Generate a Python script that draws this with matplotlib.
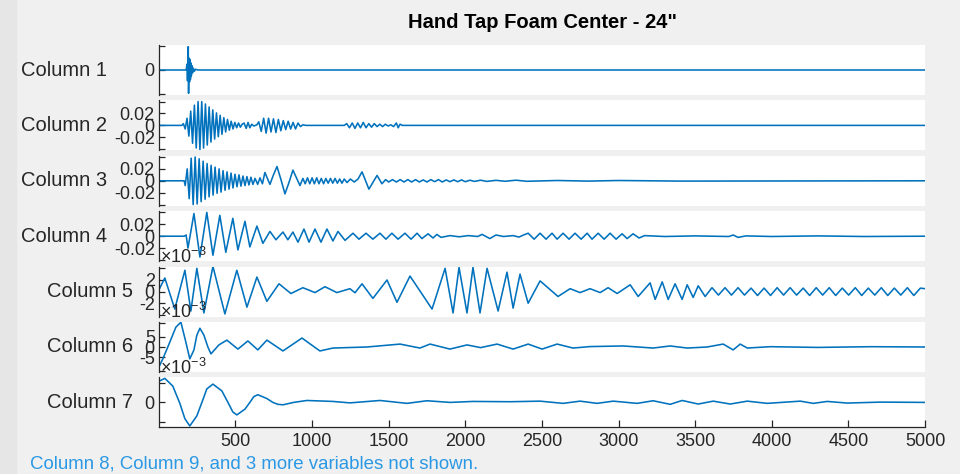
import matplotlib
matplotlib.use("Agg")
import matplotlib.pyplot as plt
from matplotlib.patches import Rectangle

plt.rcParams['font.family'] = ['Liberation Sans', 'DejaVu Sans']
plt.rcParams['mathtext.default'] = 'regular'

# sample index vs. reading; columns 2-7 are stored in units of 1e-3
col1 = [(1, 0), (178, 0), (184, 0.25), (187, -0.45), (190, 0.55), (192, 0.98), (194, -0.98),
        (197, 0.5), (200, -0.5), (203, 0.45), (206, -0.4), (209, 0.3), (212, -0.25), (216, 0.18),
        (220, -0.12), (225, 0.08), (232, -0.05), (240, 0.03), (255, 0), (5000, 0)]

col2 = [(1, 0), (150, 0), (160, 3), (172, -6), (184, 12), (196, -18), (208, 24), (220, -30),
        (232, 34), (244, -38), (256, 40), (268, -41), (280, 40), (292, -38), (304, 36), (316, -33),
        (328, 31), (340, -28), (352, 26), (364, -23), (376, 21), (388, -19), (400, 17), (412, -15),
        (424, 13), (436, -11), (448, 10), (460, -8), (472, 7), (484, -6), (496, 5), (508, -4),
        (520, 4), (532, -3), (544, 2), (556, 4), (570, -5), (582, 5), (594, -4), (606, 2),
        (620, -1), (640, 1), (652, 6), (668, -10), (684, 12), (700, -13), (716, 12), (732, -11),
        (748, 11), (764, -12), (780, 10), (796, -9), (812, 8), (828, -7), (844, 7), (860, -6),
        (876, 5), (892, -6), (908, 4), (924, -2), (940, 1), (960, 0), (1210, 0), (1226, 3),
        (1244, -4), (1262, 4), (1280, -5), (1298, 4), (1316, -4), (1334, 5), (1352, -4), (1370, 3),
        (1388, -3), (1406, 3), (1424, -2), (1442, 2), (1460, -2), (1478, 2), (1496, -1), (1514, 1),
        (1532, -2), (1550, 4), (1562, -4), (1574, 2), (1590, 0), (5000, 0)]

col3 = [(1, 0), (165, 0), (172, -8), (185, 20), (198, -30), (211, 38), (224, -40), (237, 40),
        (250, -39), (263, 37), (276, -35), (289, 33), (302, -31), (315, 29), (328, -27), (341, 26),
        (354, -24), (367, 23), (380, -21), (393, 20), (406, -19), (419, 17), (432, -16), (445, 15),
        (458, -14), (471, 13), (484, -12), (497, 11), (510, -10), (523, 10), (536, -9), (549, 8),
        (562, -8), (575, 7), (588, -7), (601, 6), (614, -6), (628, 4), (645, -6), (660, 5),
        (676, -5), (692, 14), (725, -6), (745, 8), (771, 24), (797, 2), (823, -22), (849, -3),
        (875, 18), (898, 5), (921, -8), (940, 4),
        (955, -5), (970, 5), (985, -5), (1000, 5), (1015, -5), (1030, 5), (1045, -5), (1060, 4),
        (1075, -5), (1090, 4), (1105, -4), (1120, 4), (1135, -4), (1150, 4), (1165, -4), (1180, 3),
        (1195, -4), (1210, 3), (1228, -3), (1250, 3), (1275, -2), (1300, 3), (1326, 15), (1371, -14),
        (1424, 9), (1456, -5), (1480, 2), (1500, -2), (1525, 2), (1550, -2), (1575, 2), (1600, -2),
        (1625, 2), (1650, -2), (1675, 2), (1700, -2), (1725, 1.5), (1750, -2), (1775, 2), (1800, -1.5),
        (1825, 2), (1850, -2), (1875, 1.5), (1900, -1.5), (1925, 1.5), (1950, -1.5), (1975, 1.5),
        (2000, -1.5), (2030, 1), (2060, -1), (2100, 1), (2140, -1), (2200, 0.8), (2260, -0.8),
        (2330, 1), (2400, -0.8), (2600, 0.5), (2800, -0.5), (3000, 0.5), (3400, -0.5), (5000, 0)]

col4 = [(1, 0), (165, 0), (178, 2), (190, -20), (229, 38), (268, -35), (313, 40), (353, -32),
        (398, 35), (437, -27), (483, 30), (516, -23), (562, 25), (594, -18), (640, 17), (679, -12),
        (725, 8), (764, -6), (810, 7), (842, -6), (875, 7), (908, -10), (947, 12), (980, -10),
        (1019, 12), (1058, -10), (1097, 12), (1136, -8), (1169, 8), (1215, -7), (1267, 5), (1306, -5),
        (1352, 5), (1397, -5), (1443, 5), (1482, -5), (1521, 5), (1561, -5), (1606, 5), (1646, -5),
        (1685, 5), (1717, -4), (1757, 4), (1789, -3), (1815, 3), (1841, -2), (1900, 1), (1960, -1),
        (2020, 1), (2080, -0.5), (2110, 3), (2160, -4), (2200, 2), (2250, -0.5), (2312, 1),
        (2350, -1.5), (2380, 2), (2410, 5), (2449, -5), (2488, 5), (2527, -5), (2566, 5), (2599, -5),
        (2638, 5), (2677, -5), (2716, 5), (2756, -5), (2795, 5), (2827, -5), (2867, 5), (2906, -5),
        (2945, 5), (2984, -5), (3023, 4), (3056, -4), (3095, 4), (3134, -3), (3170, 1), (3300, -0.5),
        (3500, 0.5), (3720, -0.5), (3748, 2), (3780, -2), (3830, 0.5), (4000, -0.5), (4300, 0.5),
        (4600, -0.5), (5000, 0)]

col5 = [(1, 0.33), (39, 2.34), (104, -3.0), (170, 3.67), (209, -3.34), (248, 4.0), (294, -3.67),
        (353, 4.34), (431, -3.84), (509, 3.67), (575, -2.67), (640, 2.5), (705, -1.67), (784, 1.34),
        (862, -0.33), (940, 0.67), (1019, -0.17), (1084, 0.84), (1162, -0.17), (1247, 0.5),
        (1280, -0.2), (1326, 1.34), (1397, -1.17), (1489, 2.0), (1554, -1.84), (1639, 2.67),
        (1783, -3.0), (1868, 4.0), (1920, -3.67), (1959, 4.17), (2011, -3.67), (2050, 4.17),
        (2096, -3.67), (2142, 4.0), (2214, -3.34), (2272, 3.34), (2312, -2.84), (2357, 3.0),
        (2410, -2.0), (2488, 1.84), (2605, -0.84), (2684, 0.5), (2749, -0.17), (2814, 0.5),
        (2880, -0.17), (2932, 0.67), (2991, -0.33), (3076, 1.17), (3128, -0.84), (3206, 1.5),
        (3239, -1.34), (3285, 1.67), (3324, -1.34), (3369, 1.34), (3415, -1.34), (3448, 1.17),
        (3487, -1.0), (3520, 1.0), (3565, -0.84), (3610, 0.67), (3652, -0.6), (3695, 0.67),
        (3737, -0.6), (3780, 0.67), (3822, -0.6), (3865, 0.6), (3907, -0.67), (3950, 0.6),
        (3992, -0.67), (4035, 0.67), (4077, -0.6), (4120, 0.67), (4162, -0.6), (4205, 0.6),
        (4247, -0.67), (4290, 0.67), (4332, -0.6), (4375, 0.67), (4417, -0.67), (4460, 0.6),
        (4502, -0.6), (4545, 0.67), (4587, -0.67), (4630, 0.6), (4672, -0.6), (4715, 0.67),
        (4757, -0.67), (4800, 0.6), (4842, -0.6), (4885, 0.67), (4927, -0.67), (4970, 0.6),
        (5000, 0.5)]

col6 = [(1, -9.5), (26, -5.7), (72, 2.4), (111, 9.5), (144, 11.9), (176, 2.4), (202, -5.7),
        (229, -1.4), (248, 5.7), (268, 9.0), (294, 5.7), (320, 0), (340, -3.3), (392, 1.0),
        (444, 3.3), (516, -1.0),
        (581, 2.9), (646, -1.4), (705, 3.3), (810, -1.9), (934, 4.3), (1051, -1.9), (1136, -0.5),
        (1358, 0), (1574, 1.4), (1704, -0.5), (1770, 1.4), (1900, -1.0), (2011, 1.0), (2100, -0.3),
        (2207, 1.4), (2312, -1.0), (2410, 1.4), (2501, -1.0), (2599, 1.4), (2703, -0.5), (2814, 0.2),
        (3030, 0.5), (3226, -0.5), (3337, 0.5), (3448, -0.5), (3578, 0), (3683, 1.4), (3748, -1.4),
        (3794, 1.4), (3840, -0.5), (3990, 0.15), (4300, -0.2), (4650, 0.15), (5000, 0)]

col7 = [(1, 22), (39, 25), (91, 17), (137, -1), (170, -17), (202, -24.5), (248, -14), (281, 0),
        (313, 14), (353, 19), (411, 12), (451, 0), (483, -10), (509, -13), (562, -7), (594, 0),
        (620, 6), (646, 8), (705, 4), (744, 0), (777, -2), (810, -2.5), (880, 0), (966, 2),
        (1136, 1), (1247, -0.5), (1443, 2),
        (1619, -1), (1750, 1.7), (1900, 0), (2050, 1), (2292, 0.7), (2488, 1.3), (2638, -1),
        (2749, 1.3), (2860, -1), (2965, 1.3), (3121, -1), (3226, 1.7), (3337, -2), (3415, 2),
        (3520, -1.7), (3618, 1.3), (3729, -1.7), (3840, 1.3), (3970, -1), (4186, 1.3), (4271, -1),
        (4362, 1), (4493, -0.7), (4708, 0.3), (5000, 0)]

names = ['Column 1', 'Column 2', 'Column 3', 'Column 4', 'Column 5', 'Column 6', 'Column 7']
series = [col1, col2, col3, col4, col5, col6, col7]
scales = [1, 1e-3, 1e-3, 1e-3, 1, 1, 1]          # col 5-7 drawn in 1e-3 units
ylims = [1.05, 0.042, 0.042, 0.042, 4.3, 12, 26]
ytick_vals = [[0], [-0.02, 0, 0.02], [-0.02, 0, 0.02], [-0.02, 0, 0.02], [-2, 0, 2], [-5, 0, 5], [0]]
ytick_text = [['0'], ['-0.02', '0', '0.02'], ['-0.02', '0', '0.02'], ['-0.02', '0', '0.02'],
              ['-2', '0', '2'], ['-5', '0', '5'], ['0']]
end_ticks = [0.95, 0.95, 0.95, 0.95, 0.95, 0.95, 0.78]
xticks = [500, 1000, 1500, 2000, 2500, 3000, 3500, 4000, 4500, 5000]

W, H = 960, 474
dark = '#262626'
blue = '#0072BD'

fig = plt.figure(figsize=(W / 100, H / 100), dpi=100, facecolor='#f0f0f0')
fig.patches.append(Rectangle((0, 0), 16 / W, 1, transform=fig.transFigure,
                             color='#e6e6e6', zorder=0))

left, right = 159, 925
for i in range(7):
    c = 70 + 55.4 * i
    ax = fig.add_axes([left / W, 1 - (c + 25) / H, (right - left) / W, 50 / H])
    ax.set_facecolor('white')
    t = [p[0] for p in series[i]]
    v = [p[1] * scales[i] for p in series[i]]
    ax.plot(t, v, color=blue, lw=1.15, solid_joinstyle='round')
    ax.set_xlim(1, 5000)
    lim = ylims[i]
    ax.set_ylim(-lim, lim)

    e = lim * end_ticks[i]
    ax.set_yticks([-e] + ytick_vals[i] + [e])
    ax.set_yticklabels([''] + ytick_text[i] + [''])
    ax.tick_params(axis='y', direction='in', length=4, width=0.9, color=dark,
                   labelcolor=dark, labelsize=13, pad=3)

    for s in ['top', 'right']:
        ax.spines[s].set_visible(False)
    ax.spines['left'].set_color(dark)
    ax.spines['left'].set_linewidth(0.9)

    if i < 6:
        ax.spines['bottom'].set_visible(False)
        ax.set_xticks([])
    else:
        ax.spines['bottom'].set_color(dark)
        ax.spines['bottom'].set_linewidth(0.9)
        ax.set_xticks(xticks)
        ax.set_xticklabels([str(x) for x in xticks])
        ax.tick_params(axis='x', direction='in', length=5, width=0.9, color=dark,
                       labelcolor=dark, labelsize=13, pad=4)

    if i >= 4:
        ax.text(0.001, 0.99, r'$\times10^{-3}$', transform=ax.transAxes, ha='left', va='bottom',
                fontsize=13, color=dark, clip_on=False, zorder=10)

    ax.set_ylabel(names[i], rotation=0, ha='right', va='center', fontsize=14.5, color=dark)
    label_end = 107 if i < 4 else 133
    ax.yaxis.set_label_coords((label_end - left) / (right - left), 0.5)

fig.text(542 / W, 1 - 22 / H, 'Hand Tap Foam Center - 24"', ha='center', va='center',
         fontsize=14.5, fontweight='bold', color='black')
fig.text(30 / W, 1 - 464 / H, 'Column 8, Column 9, and 3 more variables not shown.',
         ha='left', va='center', fontsize=13.4, color='#2a98e4')

fig.savefig('out.png', dpi=100, facecolor=fig.get_facecolor())
